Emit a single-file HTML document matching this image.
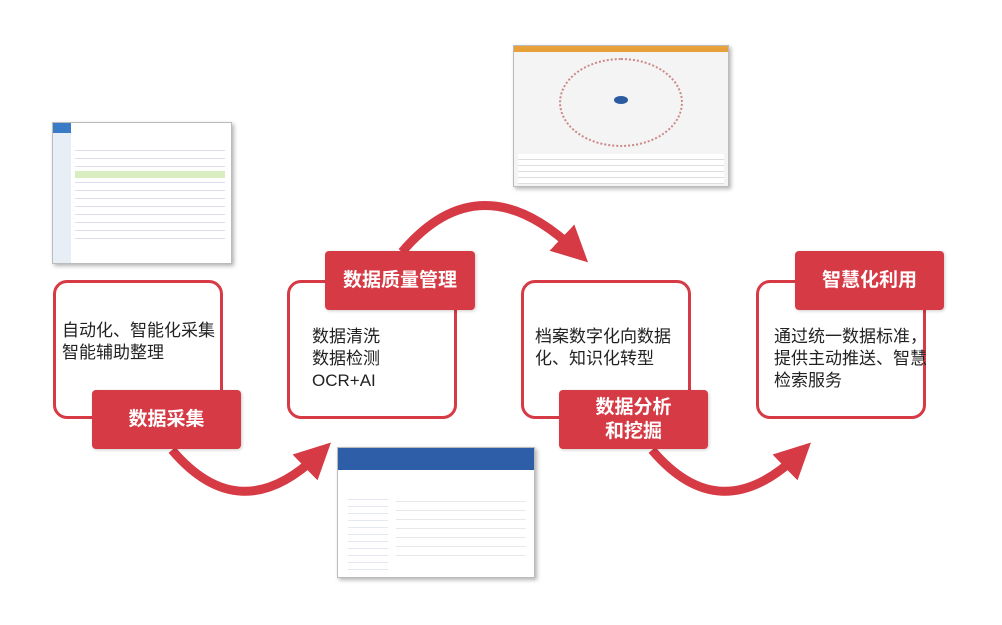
<!DOCTYPE html>
<html><head><meta charset="utf-8"><style>
body{margin:0;width:1002px;height:625px;background:#fff;position:relative;overflow:hidden;font-family:"Liberation Sans","Noto Sans CJK SC",sans-serif}
.box{position:absolute;border:3px solid #d63a45;border-radius:14px;background:#fff;box-sizing:border-box}
.lab{position:absolute;background:#d63a45;color:#fff;font-weight:bold;font-size:19px;border-radius:4px;display:flex;align-items:center;justify-content:center;text-align:center;line-height:24px;box-shadow:1px 1px 3px rgba(0,0,0,.2)}
.t{position:absolute;font-size:17px;line-height:22px;color:#222}
.shot{position:absolute;border:1px solid #bbb;box-shadow:2px 2px 4px rgba(0,0,0,.3);background:#fff;overflow:hidden}
</style></head><body>
<svg width="1002" height="625" style="position:absolute;left:0;top:0">
<defs><marker id="a" markerWidth="4" markerHeight="4" refX="2" refY="2" orient="auto"><path d="M0,0 L4,2 L0,4z" fill="#d63a45"/></marker></defs>
<g fill="none" stroke="#d63a45" stroke-width="9">
<path d="M172,450 Q240,530 318,455" marker-end="url(#a)"/>
<path d="M402,252 Q480,160 575,250" marker-end="url(#a)"/>
<path d="M652,450 Q720,530 798,455" marker-end="url(#a)"/>
</g></svg>
<div class="box" style="left:53px;top:280px;width:170px;height:139px"></div>
<div class="box" style="left:287px;top:280px;width:170px;height:139px"></div>
<div class="box" style="left:521px;top:280px;width:170px;height:139px"></div>
<div class="box" style="left:756px;top:280px;width:170px;height:139px"></div>
<div class="t" style="left:62px;top:320px">自动化、智能化采集<br>智能辅助整理</div>
<div class="t" style="left:312px;top:326px">数据清洗<br>数据检测<br>OCR+AI</div>
<div class="t" style="left:535px;top:326px">档案数字化向数据<br>化、知识化转型</div>
<div class="t" style="left:774px;top:326px">通过统一数据标准，<br>提供主动推送、智慧<br>检索服务</div>
<div class="lab" style="left:92px;top:390px;width:149px;height:59px">数据采集</div>
<div class="lab" style="left:325px;top:251px;width:150px;height:59px">数据质量管理</div>
<div class="lab" style="left:559px;top:390px;width:149px;height:59px">数据分析<br>和挖掘</div>
<div class="lab" style="left:795px;top:251px;width:149px;height:59px">智慧化利用</div>
<div class="shot" style="left:52px;top:122px;width:178px;height:140px">
<div style="position:absolute;left:0;top:0;width:18px;height:140px;background:#e8eef5"></div>
<div style="position:absolute;left:0;top:0;width:18px;height:10px;background:#3a7bc8"></div>
<div style="position:absolute;left:22px;top:20px;width:150px;height:100px;background:repeating-linear-gradient(#fff 0 7px,#dde 7px 8px)"></div>
<div style="position:absolute;left:22px;top:48px;width:150px;height:7px;background:#d8eec0"></div>
</div>
<div class="shot" style="left:513px;top:45px;width:214px;height:140px;background:#f4f4f4">
<div style="position:absolute;left:0;top:0;width:214px;height:6px;background:#e8a03a"></div>
<div style="position:absolute;left:45px;top:12px;width:120px;height:85px;border:2px dotted #c88;border-radius:50%"></div>
<div style="position:absolute;left:100px;top:50px;width:14px;height:8px;background:#2a5aa0;border-radius:50%"></div>
<div style="position:absolute;left:4px;top:108px;width:206px;height:30px;background:repeating-linear-gradient(#fff 0 5px,#ddd 5px 6px)"></div>
</div>
<div class="shot" style="left:337px;top:447px;width:196px;height:129px">
<div style="position:absolute;left:0;top:0;width:196px;height:22px;background:#2f5ea8"></div>
<div style="position:absolute;left:10px;top:45px;width:40px;height:80px;background:repeating-linear-gradient(#fff 0 6px,#e4e8f0 6px 7px)"></div>
<div style="position:absolute;left:58px;top:45px;width:130px;height:70px;background:repeating-linear-gradient(#fff 0 8px,#e8e8e8 8px 9px)"></div>
</div>
</body></html>
